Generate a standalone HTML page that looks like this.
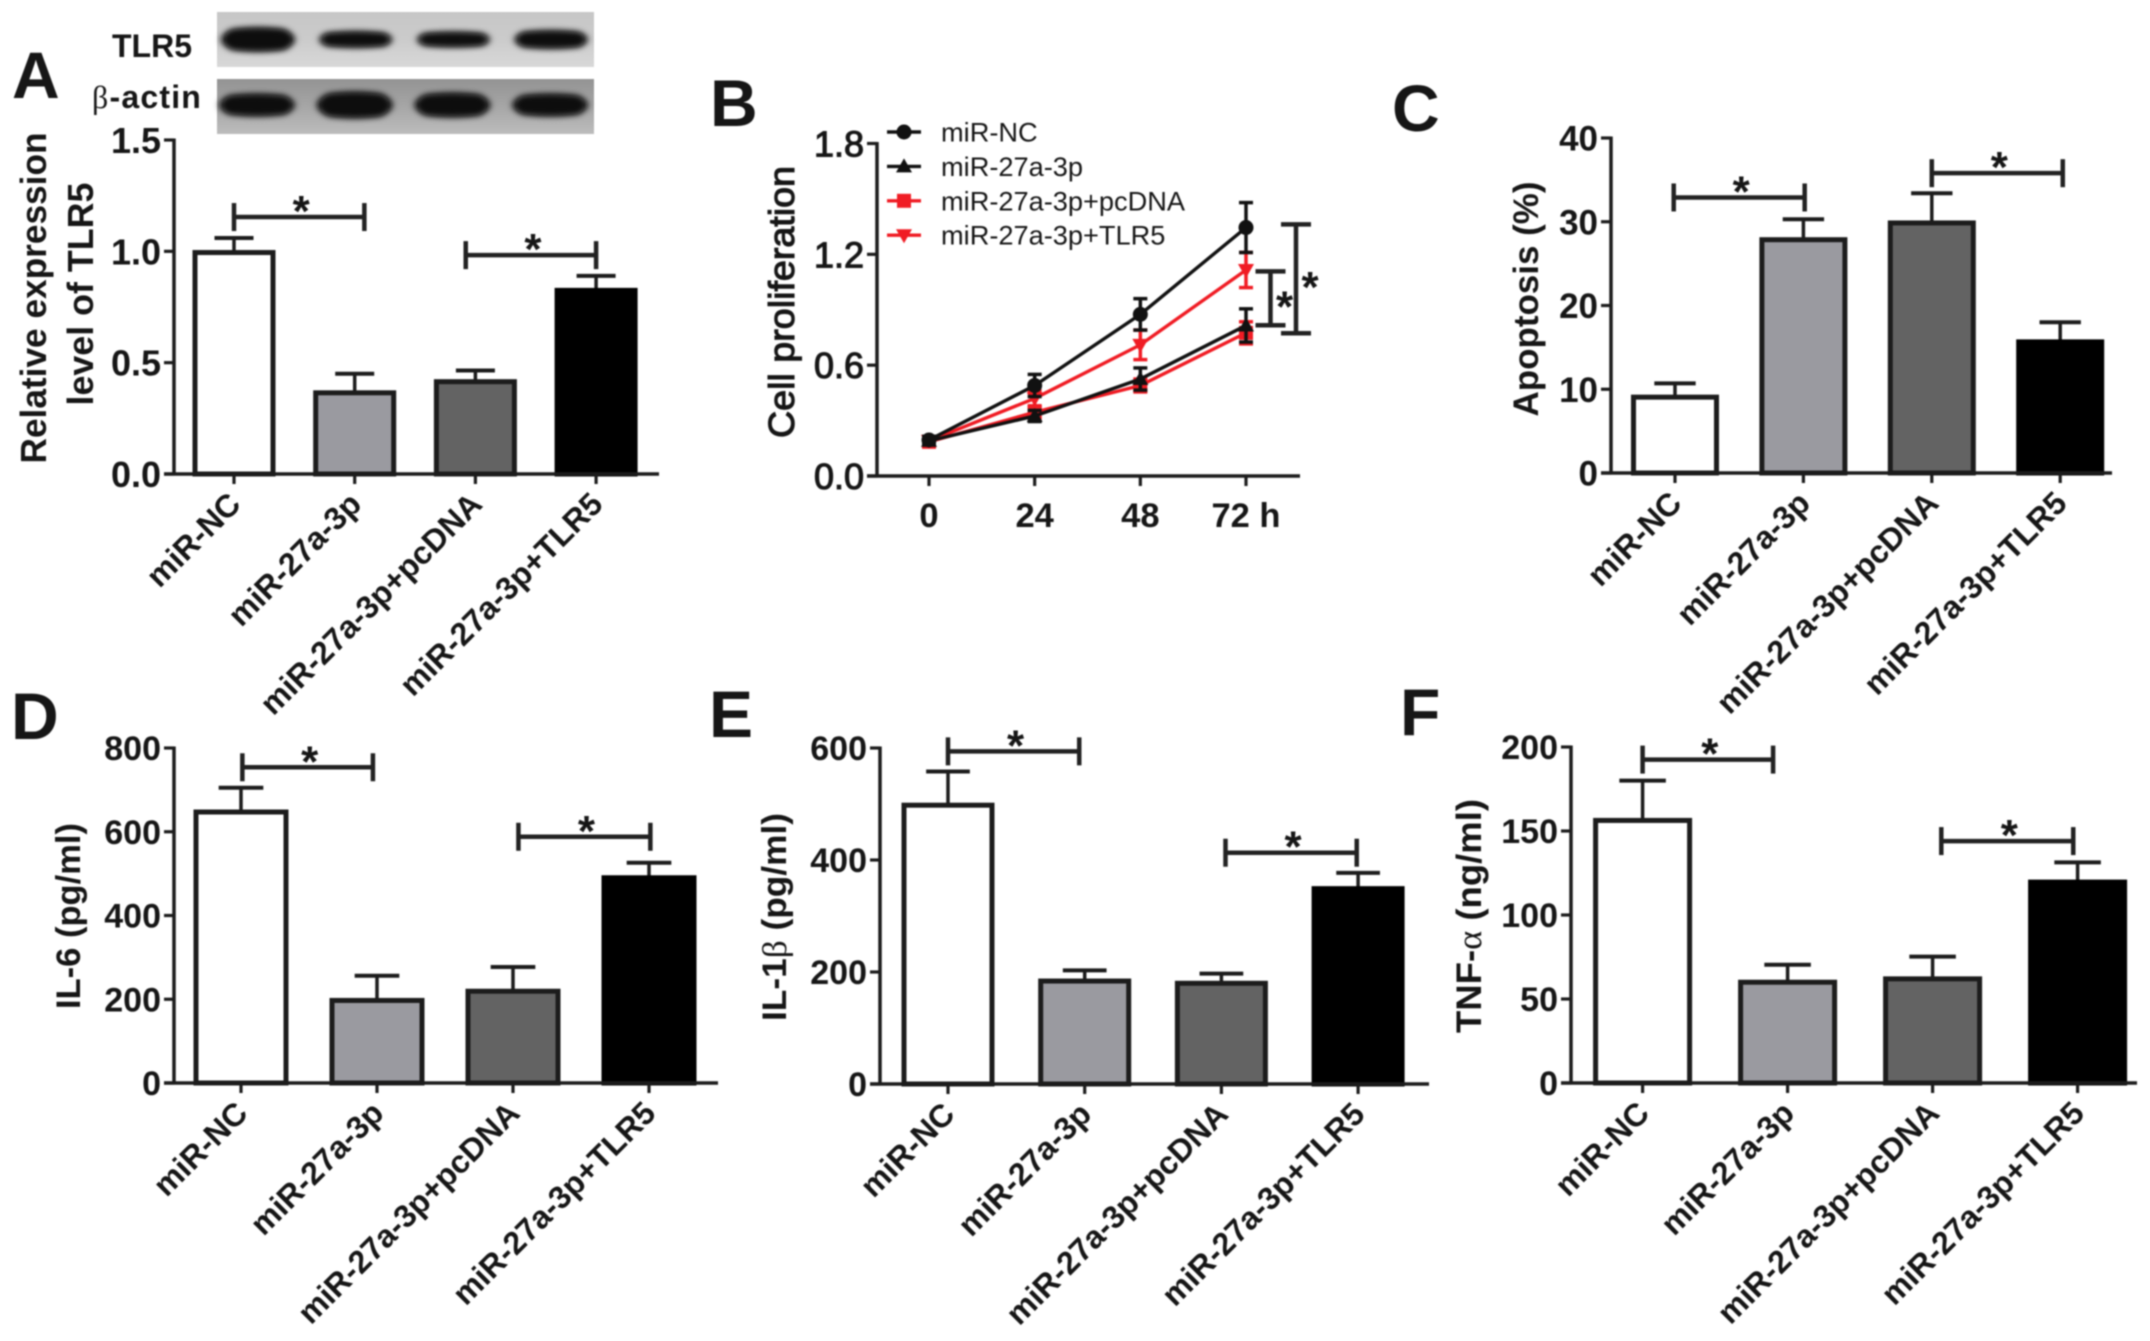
<!DOCTYPE html>
<html lang="en">
<head>
<meta charset="utf-8">
<title>miR-27a-3p and TLR5 figure</title>
<style>
html,body{margin:0;padding:0;background:#fff;}
svg{display:block;filter:blur(0.7px);}
text{font-family:"Liberation Sans",sans-serif;fill:#161616;}
</style>
</head>
<body>
<svg id="figure" xmlns="http://www.w3.org/2000/svg" width="2150" height="1341" viewBox="0 0 2150 1341">
<defs>
<filter id="band-blur" x="-20%" y="-60%" width="140%" height="220%"><feGaussianBlur stdDeviation="3.5"></feGaussianBlur></filter>
<linearGradient id="blot-top-bg" x1="0" y1="0" x2="0" y2="1"><stop offset="0" stop-color="#c6c6c6"></stop><stop offset="0.5" stop-color="#cbcbcb"></stop><stop offset="1" stop-color="#d8d8d8"></stop></linearGradient>
<linearGradient id="blot-bottom-bg" x1="0" y1="0" x2="0" y2="1"><stop offset="0" stop-color="#939393"></stop><stop offset="0.5" stop-color="#a6a6a6"></stop><stop offset="1" stop-color="#bcbcbc"></stop></linearGradient>
</defs>
</svg>
<script>
// ---------- shared categories ----------
const categories = ['miR-NC', 'miR-27a-3p', 'miR-27a-3p+pcDNA', 'miR-27a-3p+TLR5'];
const barFills = ['#ffffff', '#9a9aa0', '#636363', '#000000'];

// ---------- panel A ----------
const aTicks = [0, 0.5, 1.0, 1.5];
const aTickLabels = ['0.0', '0.5', '1.0', '1.5'];
const aValues = [1.0, 0.37, 0.42, 0.83];
const aErrorTops = [1.06, 0.45, 0.465, 0.89];
const aBrackets = [[0, 1.08, 1.154], [1.92, 3, 0.983]];

// ---------- panel B ----------
const bHours = [0, 24, 48, 72];
const bHourLabels = ['0', '24', '48', '72 h'];
const bTicks = [0, 0.6, 1.2, 1.8];
const bTickLabels = ['0.0', '0.6', '1.2', '1.8'];
const bSeriesNames = ['miR-NC', 'miR-27a-3p', 'miR-27a-3p+pcDNA', 'miR-27a-3p+TLR5'];
const bNC = [0.195, 0.49, 0.875, 1.345];
const bMiR = [0.19, 0.325, 0.525, 0.815];
const bPcDNA = [0.185, 0.345, 0.49, 0.775];
const bTLR5 = [0.19, 0.42, 0.71, 1.115];
const bNCErr = [0.02, 0.06, 0.085, 0.135];
const bMiRErr = [0.02, 0.03, 0.06, 0.09];
const bPcDNAErr = [0.02, 0.03, 0.035, 0.06];
const bTLR5Err = [0.02, 0.04, 0.08, 0.095];
const bBrackets = [[0.816, 1.108], [0.773, 1.362]];

// ---------- panel C ----------
const cTicks = [0, 10, 20, 30, 40];
const cTickLabels = ['0', '10', '20', '30', '40'];
const cValues = [9.2, 28, 30, 15.8];
const cErrorTops = [10.7, 30.3, 33.4, 18];
const cBrackets = [[-0.01, 1.01, 32.9], [2, 3.02, 35.8]];

// ---------- panel D ----------
const dTicks = [0, 200, 400, 600, 800];
const dTickLabels = ['0', '200', '400', '600', '800'];
const dValues = [650, 200, 222, 493];
const dErrorTops = [705, 256, 277, 526];
const dBrackets = [[0.01, 0.97, 754], [2.04, 3.01, 588]];

// ---------- panel E ----------
const eTicks = [0, 200, 400, 600];
const eTickLabels = ['0', '200', '400', '600'];
const eValues = [500, 186, 182, 351];
const eErrorTops = [558, 203, 197, 377];
const eBrackets = [[0, 0.96, 594], [2.03, 2.99, 413]];

// ---------- panel F ----------
const fTicks = [0, 50, 100, 150, 200];
const fTickLabels = ['0', '50', '100', '150', '200'];
const fValues = [157, 60.7, 62.7, 120.3];
const fErrorTops = [180, 70.4, 75.2, 131.3];
const fBrackets = [[0, 0.9, 192.5], [2.06, 2.97, 144]];

// ---------- western blot band thickness per lane ----------
const blotTLR5 = [20, 12, 11, 14];
const blotActin = [18, 22, 20, 18];

const NS = 'http://www.w3.org/2000/svg';
const root = document.getElementById('figure');

function mk(tag, attrs, parent, name) {
  const el = document.createElementNS(NS, tag);
  for (const k in attrs) el.setAttribute(k, attrs[k]);
  
  
  parent.appendChild(el);
  return el;
}
function txt(str, attrs, parent, name) {
  const el = mk('text', attrs, parent, name);
  el.textContent = str;
  return el;
}
function line(x1, y1, x2, y2, color, w, parent, name) {
  return mk('line', {x1: x1, y1: y1, x2: x2, y2: y2, stroke: color, 'stroke-width': w}, parent, name);
}

function yScale(p) {
  const top = p.ticks[p.ticks.length - 1];
  return function (v) { return p.y0 - (v / top) * (p.y0 - p.yTop); };
}

function drawYAxis(p, g, y, labelStyle) {
  const axisColor = '#1c1c1c';
  line(p.axisX, p.yTop - 1.5, p.axisX, p.y0 + 1.5, axisColor, 3.5, g, 'y-axis');
  p.ticks.forEach(function (t, i) {
    line(p.axisX - 10, y(t), p.axisX, y(t), axisColor, 3.2, g, 'y-tick');
    txt(p.tickLabels[i], Object.assign({x: p.axisX - 13, y: y(t) + p.tickSize * 0.36, 'text-anchor': 'end', 'font-size': p.tickSize}, labelStyle), g, 'y-tick-label');
  });
}

function drawTitle(lines, g) {
  lines.forEach(function (l) {
    const t = mk('text', {
      transform: 'translate(' + l.x + ',' + l.y + ') rotate(-90)',
      'text-anchor': 'middle', 'dominant-baseline': 'central',
      'font-size': l.size, 'font-weight': l.weight || 'bold',
      textLength: l.len, lengthAdjust: 'spacingAndGlyphs'
    }, g, 'y-axis-title');
    l.parts.forEach(function (part) {
      const s = mk('tspan', part.serif ? {style: 'font-family:"Liberation Serif",serif;font-weight:normal'} : {}, t, 'y-axis-title-part');
      s.textContent = part.t;
    });
    if (l.stroke) { t.setAttribute('stroke', '#161616'); t.setAttribute('stroke-width', l.stroke); }
  });
}

function drawBarPanel(p) {
  const g = mk('g', {}, root, p.name);
  const y = yScale(p);
  const x = function (i) { return p.x0 + i * p.step; };
  const axisColor = '#1c1c1c';

  txt(p.letter, {x: p.letterX, y: p.letterY, 'font-size': 66, 'font-weight': 'bold', fill: '#000'}, g, 'panel-letter');
  drawTitle(p.title, g);

  p.values.forEach(function (v, i) {
    const cx = x(i);
    const inner = p.barW - 5;
    const errCap = p.barW * 0.235;
    const barTop = y(v) + 1.2;
    line(cx, barTop, cx, y(p.errorTops[i]), '#1c1c1c', 3.5, g, 'error-stem');
    line(cx - errCap, y(p.errorTops[i]), cx + errCap, y(p.errorTops[i]), '#1c1c1c', 4, g, 'error-cap');
    mk('rect', {x: cx - inner / 2, y: barTop, width: inner, height: y(0) - barTop, fill: barFills[i], stroke: i === 3 ? '#000' : '#1c1c1c', 'stroke-width': 5}, g, 'bar-' + categories[i].toLowerCase().replace(/[^a-z0-9]+/g, '-'));
  });

  drawYAxis(p, g, y, {'font-weight': 'bold'});
  line(p.axisX - 10, p.y0, p.xEnd, p.y0, axisColor, 3.5, g, 'x-axis');

  categories.forEach(function (c, i) {
    line(x(i), p.y0, x(i), p.y0 + 10, axisColor, 3.2, g, 'x-tick');
    txt(c, {
      transform: 'translate(' + (x(i) + 8.5) + ',' + (p.y0 + 32) + ') rotate(-45)',
      'text-anchor': 'end', 'font-size': p.labelSize, 'font-weight': 'bold'
    }, g, 'x-tick-label');
  });

  p.brackets.forEach(function (b) {
    const bg = mk('g', {}, g, 'significance-bracket');
    const x1 = x(b[0]), x2 = x(b[1]), by = y(b[2]);
    line(x1, by, x2, by, '#222', 4.5, bg, 'bracket-bar');
    line(x1, by - 14, x1, by + 14, '#222', 4.5, bg, 'bracket-cap');
    line(x2, by - 14, x2, by + 14, '#222', 4.5, bg, 'bracket-cap');
    txt('*', {x: (x1 + x2) / 2 + 2, y: by + 9, 'text-anchor': 'middle', 'font-size': 44, 'font-weight': 'bold'}, bg, 'significance-star');
  });
}

function drawMarker(kind, cx, cy, color, g) {
  const r = 7;
  if (kind === 0) return mk('circle', {cx: cx, cy: cy, r: r + 0.5, fill: color}, g, 'marker-circle');
  if (kind === 1) return mk('polygon', {points: [cx, cy - r - 1, cx + r + 1, cy + r - 1, cx - r - 1, cy + r - 1].join(' '), fill: color}, g, 'marker-triangle');
  if (kind === 2) return mk('rect', {x: cx - r, y: cy - r, width: 2 * r, height: 2 * r, fill: color}, g, 'marker-square');
  return mk('polygon', {points: [cx, cy + r + 1, cx + r + 1, cy - r + 1, cx - r - 1, cy - r + 1].join(' '), fill: color}, g, 'marker-inverted-triangle');
}

function drawLinePanel() {
  const p = {axisX: 877, y0: 476, yTop: 143.5, ticks: bTicks, tickLabels: bTickLabels, tickSize: 36};
  const g = mk('g', {}, root, 'panel-b');
  const y = yScale(p);
  const x = function (i) { return 929 + (i / (bHours.length - 1)) * 317; };
  const axisColor = '#1c1c1c';

  txt('B', {x: 710, y: 126, 'font-size': 66, 'font-weight': 'bold', fill: '#000'}, g, 'panel-letter');
  drawTitle([{x: 781, y: 302, size: 36, len: 272, stroke: 1.1, weight: 'normal', parts: [{t: 'Cell proliferation'}]}], g);
  drawYAxis(p, g, y, {stroke: '#161616', 'stroke-width': 1.1});
  line(p.axisX - 10, p.y0, 1300, p.y0, axisColor, 3.5, g, 'x-axis');

  bHours.forEach(function (h, i) {
    line(x(i), p.y0, x(i), p.y0 + 10, axisColor, 3.2, g, 'x-tick');
    txt(bHourLabels[i], {x: x(i), y: 527, 'text-anchor': 'middle', 'font-size': 34.5, 'font-weight': 'bold'}, g, 'x-tick-label');
  });

  const series = [
    {name: bSeriesNames[3], vals: bTLR5, errs: bTLR5Err, color: '#f01c24', kind: 3},
    {name: bSeriesNames[2], vals: bPcDNA, errs: bPcDNAErr, color: '#f01c24', kind: 2},
    {name: bSeriesNames[1], vals: bMiR, errs: bMiRErr, color: '#111111', kind: 1},
    {name: bSeriesNames[0], vals: bNC, errs: bNCErr, color: '#111111', kind: 0}
  ];
  series.forEach(function (s) {
    const sg = mk('g', {}, g, 'series-' + s.name.toLowerCase().replace(/[^a-z0-9]+/g, '-'));
    mk('polyline', {points: s.vals.map(function (v, i) { return x(i) + ',' + y(v); }).join(' '), fill: 'none', stroke: s.color, 'stroke-width': 3.4}, sg, 'series-line');
    s.vals.forEach(function (v, i) {
      const hi = y(v + s.errs[i]), lo = y(v - s.errs[i]);
      line(x(i), hi, x(i), lo, s.color, 3.5, sg, 'error-stem');
      line(x(i) - 7, hi, x(i) + 7, hi, s.color, 3.5, sg, 'error-cap');
      line(x(i) - 7, lo, x(i) + 7, lo, s.color, 3.5, sg, 'error-cap');
      drawMarker(s.kind, x(i), y(v), s.color, sg);
    });
  });

  const legendColors = ['#111111', '#111111', '#f01c24', '#f01c24'];
  bSeriesNames.forEach(function (n, i) {
    const lg = mk('g', {}, g, 'legend-entry');
    const ly = 132 + i * 34.4;
    line(887, ly, 921, ly, legendColors[i], 3.4, lg, 'legend-line');
    drawMarker(i, 904, ly, legendColors[i], lg);
    txt(n, {x: 941, y: ly + 9.5, 'font-size': 27.2, fill: '#2a2a2a'}, lg, 'legend-label');
  });

  bBrackets.forEach(function (b, i) {
    const bx = i === 0 ? 1270.5 : 1296;
    const bg = mk('g', {}, g, 'significance-bracket');
    line(bx, y(b[0]), bx, y(b[1]), '#222', 4.5, bg, 'bracket-bar');
    line(bx - 15, y(b[0]), bx + 15, y(b[0]), '#222', 4.5, bg, 'bracket-cap');
    line(bx - 15, y(b[1]), bx + 15, y(b[1]), '#222', 4.5, bg, 'bracket-cap');
    txt('*', {x: bx + 14, y: (y(b[0]) + y(b[1])) / 2 + 23, 'text-anchor': 'middle', 'font-size': 44, 'font-weight': 'bold'}, bg, 'significance-star');
  });
}

function drawBlot() {
  const g = mk('g', {}, root, 'western-blot');
  const lane = function (i) { return 258 + i * 97.7; };
  mk('rect', {x: 217, y: 12, width: 377, height: 55, fill: 'url(#blot-top-bg)'}, g, 'blot-tlr5-background');
  mk('rect', {x: 217, y: 79, width: 377, height: 55, fill: 'url(#blot-bottom-bg)'}, g, 'blot-actin-background');
  blotTLR5.forEach(function (h, i) {
    mk('ellipse', {cx: lane(i), cy: 39.5, rx: 37, ry: h / 2 + 1.5, fill: '#111', filter: 'url(#band-blur)'}, g, 'tlr5-band');
    mk('rect', {x: lane(i) - 33, y: 39.5 - h / 2, width: 66, height: h, rx: h / 2, fill: '#0a0a0a', filter: 'url(#band-blur)'}, g, 'tlr5-band-core');
  });
  blotActin.forEach(function (h, i) {
    mk('ellipse', {cx: lane(i) - 1, cy: 105, rx: 38, ry: h / 2 + 1.5, fill: '#111', filter: 'url(#band-blur)'}, g, 'actin-band');
    mk('rect', {x: lane(i) - 35, y: 105 - h / 2, width: 68, height: h, rx: h / 2, fill: '#0a0a0a', filter: 'url(#band-blur)'}, g, 'actin-band-core');
  });
  txt('TLR5', {x: 112, y: 57, 'font-size': 32, 'font-weight': 'bold'}, g, 'blot-label-tlr5');
  const beta = txt('', {x: 92, y: 108, 'font-size': 32, 'font-weight': 'bold', 'letter-spacing': '1.2'}, g, 'blot-label-actin');
  const b1 = mk('tspan', {style: 'font-family:"Liberation Serif",serif;font-weight:normal'}, beta, 'blot-label-beta');
  b1.textContent = 'β';
  const b2 = mk('tspan', {}, beta, 'blot-label-actin-text');
  b2.textContent = '-actin';
}

drawBlot();
drawBarPanel({
  name: 'panel-a', letter: 'A', letterX: 12, letterY: 98,
  axisX: 174, y0: 474, yTop: 140, xEnd: 659, x0: 234, step: 120.7, barW: 83, labelSize: 32,
  ticks: aTicks, tickLabels: aTickLabels, tickSize: 36, values: aValues, errorTops: aErrorTops, brackets: aBrackets,
  title: [
    {x: 33, y: 298, size: 36, len: 331, parts: [{t: 'Relative expression'}]},
    {x: 80, y: 294, size: 36, len: 223, parts: [{t: 'level of TLR5'}]}
  ]
});
drawLinePanel();
drawBarPanel({
  name: 'panel-c', letter: 'C', letterX: 1392, letterY: 131,
  axisX: 1611, y0: 473, yTop: 138, xEnd: 2112, x0: 1675, step: 128.4, barW: 88, labelSize: 32,
  ticks: cTicks, tickLabels: cTickLabels, tickSize: 35, values: cValues, errorTops: cErrorTops, brackets: cBrackets,
  title: [{x: 1526, y: 299, size: 35, len: 235, parts: [{t: 'Apoptosis (%)'}]}]
});
drawBarPanel({
  name: 'panel-d', letter: 'D', letterX: 11, letterY: 739,
  axisX: 174, y0: 1083, yTop: 748, xEnd: 718, x0: 241, step: 136, barW: 95, labelSize: 32,
  ticks: dTicks, tickLabels: dTickLabels, tickSize: 34, values: dValues, errorTops: dErrorTops, brackets: dBrackets,
  title: [{x: 69, y: 916, size: 34.5, len: 186, parts: [{t: 'IL-6 (pg/ml)'}]}]
});
drawBarPanel({
  name: 'panel-e', letter: 'E', letterX: 709, letterY: 737,
  axisX: 880, y0: 1084, yTop: 748, xEnd: 1429, x0: 948, step: 136.7, barW: 93, labelSize: 32,
  ticks: eTicks, tickLabels: eTickLabels, tickSize: 34, values: eValues, errorTops: eErrorTops, brackets: eBrackets,
  title: [{x: 775, y: 917, size: 34, len: 208, parts: [{t: 'IL-1'}, {t: 'β', serif: true}, {t: ' (pg/ml)'}]}]
});
drawBarPanel({
  name: 'panel-f', letter: 'F', letterX: 1400, letterY: 735,
  axisX: 1571, y0: 1083, yTop: 747, xEnd: 2137, x0: 1642.6, step: 145, barW: 99, labelSize: 32,
  ticks: fTicks, tickLabels: fTickLabels, tickSize: 34, values: fValues, errorTops: fErrorTops, brackets: fBrackets,
  title: [{x: 1469, y: 916, size: 35, len: 234, parts: [{t: 'TNF-'}, {t: 'α', serif: true}, {t: ' (ng/ml)'}]}]
});
</script>
</body>
</html>
